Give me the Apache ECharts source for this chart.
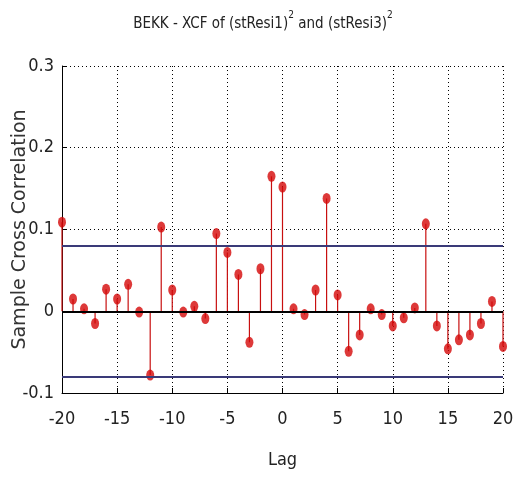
<!DOCTYPE html>
<html>
<head>
<meta charset="utf-8">
<script src="https://cdn.jsdelivr.net/npm/echarts@6/dist/echarts.min.js"></script>
<style>
  * { margin: 0; padding: 0; }
  body { background: #fff; }
</style>
</head>
<body>
<!-- chart container -->
<div id="main" style="width:515px;height:477px;background:white;"></div>
<script>
// lags -20..20
var lags = [-20, -19, -18, -17, -16, -15, -14, -13, -12, -11, -10, -9, -8, -7, -6, -5, -4, -3, -2, -1,
  0, 1, 2, 3, 4, 5, 6, 7, 8, 9, 10, 11, 12, 13, 14, 15, 16, 17, 18, 19, 20];
// sample cross correlation
var xcf = [0.109, 0.015, 0.003, -0.015, 0.027, 0.015, 0.033, -0.001, -0.078, 0.103, 0.026,
  -0.001, 0.006, -0.009, 0.095, 0.072, 0.045, -0.038, 0.052, 0.165,
  0.152, 0.003, -0.004, 0.026, 0.138, 0.020, -0.049, -0.029, 0.003, -0.004,
  -0.018, -0.008, 0.004, 0.107, -0.018, -0.046, -0.035, -0.029, -0.015, 0.012, -0.043];
var bound = [0.079, -0.079];   // confidence bounds
var xTicks = [-20, -15, -10, -5, 0, 5, 10, 15, 20];
var yTicks = [-0.1, 0, 0.1, 0.2, 0.3];

var narrow = '"DejaVu Sans Condensed", "Liberation Sans Narrow", "Liberation Sans", sans-serif';

var stemData = [];
for (var i = 0; i < lags.length; i++) {
  stemData.push([lags[i], xcf[i]]);
}

var chart = echarts.init(document.getElementById('main'));
chart.setOption({
  animation: false,
  title: {
    text: '{a|BEKK - XCF of (stResi1)}{s|2}{a| and (stResi3)}{s|2}',
    left: 258,
    top: 5,
    textAlign: 'center',
    textStyle: {
      fontWeight: 'normal',
      rich: {
        a: { fontFamily: narrow, fontSize: 15, fontWeight: 'normal', color: '#222', lineHeight: 22, verticalAlign: 'bottom' },
        s: { fontFamily: narrow, fontSize: 10, fontWeight: 'normal', color: '#222', lineHeight: 10, verticalAlign: 'top' }
      }
    }
  },
  grid: { left: 62, right: 12, top: 66, bottom: 84, outerBoundsMode: 'none', containLabel: false },
  xAxis: {
    type: 'value',
    min: xTicks[0],
    max: xTicks[xTicks.length - 1],
    interval: 5,
    name: 'Lag',
    nameLocation: 'middle',
    nameGap: 58,
    nameMoveOverlap: false,
    nameTextStyle: { fontFamily: narrow, fontSize: 18, color: '#222' },
    axisLine: { onZero: false, lineStyle: { color: '#000', width: 1 } },
    axisTick: { inside: true, length: 5, lineStyle: { color: '#000' } },
    axisLabel: { fontFamily: narrow, fontSize: 18, color: '#222', margin: 17 },
    splitLine: { show: true, lineStyle: { color: '#000', type: [1, 3], width: 1 } }
  },
  yAxis: {
    type: 'value',
    min: yTicks[0],
    max: yTicks[yTicks.length - 1],
    interval: 0.1,
    name: 'Sample Cross Correlation',
    nameLocation: 'middle',
    nameGap: 32,
    nameMoveOverlap: false,
    nameTextStyle: { fontFamily: 'DejaVu Sans, sans-serif', fontSize: 19, color: '#333' },
    axisLine: { show: true, onZero: false, lineStyle: { color: '#000', width: 1 } },
    axisTick: { show: true, inside: true, length: 5, lineStyle: { color: '#000' } },
    axisLabel: {
      fontFamily: narrow, fontSize: 18, color: '#222', margin: 8,
      formatter: function (v) { return String(+v.toFixed(1)); }
    },
    splitLine: { show: true, lineStyle: { color: '#000', type: [1, 3], width: 1 } }
  },
  series: [
    {
      // zero line + bounds
      type: 'line',
      data: [],
      silent: true,
      markLine: {
        symbol: 'none',
        silent: true,
        label: { show: false },
        data: [
          { yAxis: 0, lineStyle: { color: '#000', width: 2, type: 'solid' } },
          { yAxis: bound[0], lineStyle: { color: '#3a3a78', width: 2, type: 'solid' } },
          { yAxis: bound[1], lineStyle: { color: '#3a3a78', width: 2, type: 'solid' } }
        ]
      }
    },
    {
      // stems
      type: 'bar',
      data: stemData,
      barWidth: 1.2,
      itemStyle: { color: '#c81010' },
      z: 3
    },
    {
      type: 'scatter',
      data: stemData,
      symbol: 'circle',
      symbolSize: [8, 11],
      itemStyle: { color: '#d40808' },
      z: 4
    }
  ]
});
</script>
</body>
</html>
